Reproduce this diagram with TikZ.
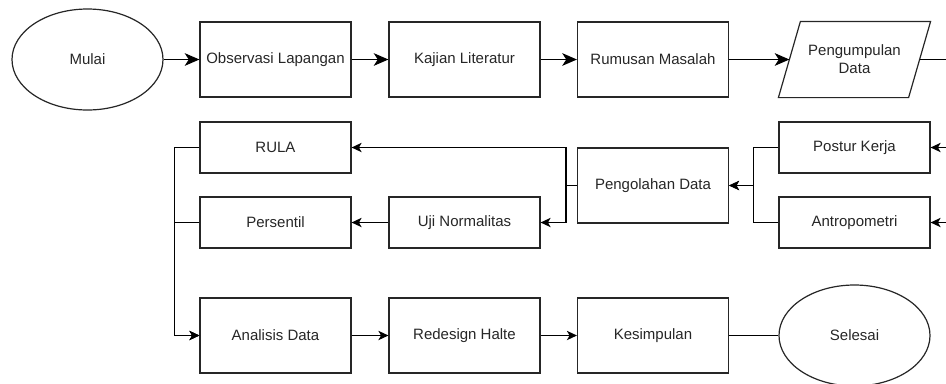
\documentclass[tikz,border=0pt]{standalone}
\usepackage{fontspec}
\setmainfont{Liberation Sans}
\usetikzlibrary{shapes.geometric,arrows.meta}

\tikzset{
  proses/.style={draw=black!85, rectangle, minimum width=113.25pt, minimum height=56.25pt, inner sep=0pt},
  proseskecil/.style={proses, minimum height=38.25pt},
  terminal/.style={draw=black!85, ellipse, minimum width=113.25pt, minimum height=75.75pt, inner sep=0pt},
  dataio/.style={rectangle, minimum width=113.25pt, minimum height=56.25pt, inner sep=0pt, align=center},
  panah/.style={-{Stealth[length=11pt,width=9.5pt,inset=3pt]}},
  panahkecil/.style={-{Stealth[length=7.5pt,width=7pt,inset=2pt]}},
}

\begin{document}
\begin{tikzpicture}[x=0.75pt,y=0.75pt,yscale=-1,xscale=1,line width=0.9pt,
  every node/.style={font=\fontsize{11.25}{13.5}\selectfont, text=black!85}]
        \useasboundingbox (0,0) rectangle (946,383);
        \clip (0,0) rectangle (946,383);

        % Baris atas
        \node [terminal] (mulai) at (87.5,59.5) {Mulai};
        \node [proses] (observasi) at (275.5,59.5) {Observasi Lapangan};
        \node [proses] (kajian) at (464.5,59.5) {Kajian Literatur};
        \node [proses] (rumusan) at (653,59.5) {Rumusan Masalah};
        \node [dataio] (pengumpulan) at (854.5,59.5) {Pengumpulan\\Data};
        %Shape: Parallelogram
        \draw [draw=black!85] (pengumpulan.south west) -- ([xshift=16.5pt]pengumpulan.north west)
          -- (pengumpulan.north east) -- ([xshift=-16.5pt]pengumpulan.south east) -- cycle;
        \coordinate (pengumpulan-e) at ([xshift=-8.25pt]pengumpulan.east);

        % Baris tengah
        \node [proseskecil] (rula) at (275.5,147.5) {RULA};
        \node [proseskecil] (persentil) at (275.5,222.5) {Persentil};
        \node [proseskecil] (uji) at (464.5,222.5) {Uji Normalitas};
        \node [proses] (pengolahan) at (653,185.5) {Pengolahan Data};
        \node [proseskecil] (postur) at (854.5,147.5) {Postur Kerja};
        \node [proseskecil] (antropometri) at (854.5,222.5) {Antropometri};

        % Baris bawah
        \node [proses] (analisis) at (275.5,335.5) {Analisis Data};
        \node [proses] (redesign) at (464.5,335.5) {Redesign Halte};
        \node [proses] (kesimpulan) at (653,335.5) {Kesimpulan};
        \node [terminal] (selesai) at (854.5,335.5) {Selesai};

        % Garis alir
        \draw [panah] (mulai) -- (observasi);
        \draw [panah] (observasi) -- (kajian);
        \draw [panah] (kajian) -- (rumusan);
        \draw [panah] (rumusan) -- ([xshift=8.25pt]pengumpulan.west);
        \draw [panahkecil] (pengumpulan-e) -- ++(40,0) |- (postur.east);
        \draw [panahkecil] (pengumpulan-e) -- ++(40,0) |- (antropometri.east);
        \draw [panahkecil] (postur.west) -- ++(-25,0) |- (pengolahan.east);
        \draw [panahkecil] (antropometri.west) -- ++(-25,0) |- (pengolahan.east);
        \draw [panahkecil] (pengolahan.west) -- ++(-11,0) |- (rula.east);
        \draw [panahkecil] (pengolahan.west) -- ++(-11,0) |- (uji.east);
        \draw [panahkecil] (uji) -- (persentil);
        \draw [panahkecil] (rula.west) -- ++(-25,0) |- (analisis.west);
        \draw [panahkecil] (persentil.west) -- ++(-25,0) |- (analisis.west);
        \draw [panahkecil] (analisis) -- (redesign);
        \draw [panahkecil] (redesign) -- (kesimpulan);
        \draw (kesimpulan) -- (selesai);
    \end{tikzpicture}
\end{document}
